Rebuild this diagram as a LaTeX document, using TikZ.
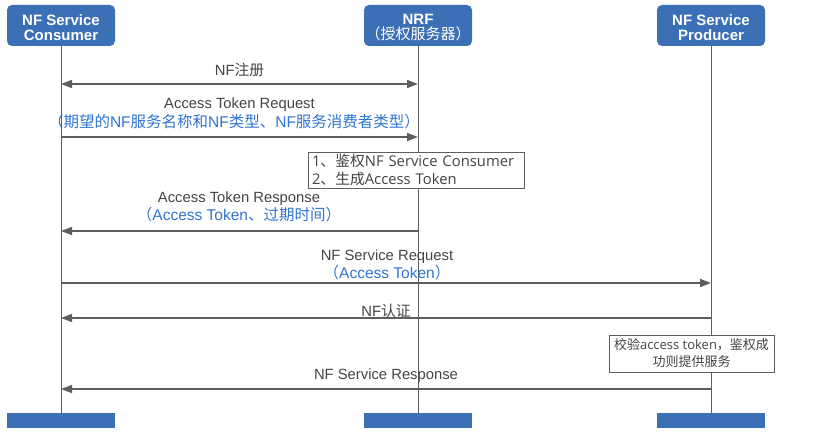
\documentclass[tikz,border=0pt]{standalone}
\usepackage{fontspec}
\setmainfont{Liberation Sans}
\newfontfamily\cjk{Noto Sans CJK SC}
\newfontfamily\boxfont{Open Sans}
\usetikzlibrary{arrows.meta}
\definecolor{hdr}{HTML}{3B6FB6}
\definecolor{ln}{HTML}{5E5E5E}
\definecolor{txt}{HTML}{444444}
\definecolor{btxt}{HTML}{2F74D0}
\begin{document}
\begin{tikzpicture}[x=1pt,y=-1pt,
  hdrbox/.style={fill=hdr, rounded corners=5pt, minimum width=108pt, minimum height=41pt, inner sep=0pt},
  hdrtext/.style={text=white, font=\fontsize{15}{15.5}\selectfont\bfseries, align=center, inner sep=0pt},
  barbox/.style={fill=hdr, minimum width=108pt, minimum height=15pt, inner sep=0pt},
  life/.style={draw=ln, line width=0.8pt},
  msg/.style={draw=ln, line width=1.7pt, -{Triangle[length=11pt,width=8pt]}},
  msgboth/.style={draw=ln, line width=1.7pt, {Triangle[length=11pt,width=8pt]}-{Triangle[length=11pt,width=8pt]}},
  lbl/.style={text=txt, font=\fontsize{14.8}{16.5}\selectfont, inner sep=0pt, align=center},
  blbl/.style={text=btxt, font=\fontsize{15.5}{16.5}\selectfont, inner sep=0pt, align=center},
  notebox/.style={draw=ln, line width=0.8pt, fill=white, text=txt, inner sep=0pt}
]
\useasboundingbox (0,0) rectangle (816,444);

% headers
\node[hdrbox] (cons) at (61,25.5) {};
\node[hdrtext] (const) at ([yshift=-2pt]cons.center) {NF Service\\Consumer};
\node[hdrbox] (nrf) at (418,25.5) {};
\node[hdrtext] (nrft) at ([yshift=-2pt]nrf.center) {NRF\\{\mdseries\cjk （授权服务器）}};
\node[hdrbox] (prod) at (711,25.5) {};
\node[hdrtext] (prodt) at ([yshift=-2pt]prod.center) {NF Service\\Producer};

% bottom bars
\node[barbox] (consb) at (61,420.5) {};
\node[barbox] (nrfb) at (418,420.5) {};
\node[barbox] (prodb) at (711,420.5) {};

% lifelines
\draw[life] (cons.south) -- (consb.north);
\draw[life] (nrf.south) -- (nrfb.north);
\draw[life] (prod.south) -- (prodb.north);

% message anchors
\coordinate (c1) at (61,84);  \coordinate (n1) at (418,84);
\coordinate (c2) at (61,137); \coordinate (n2) at (418,137);
\coordinate (c3) at (61,231); \coordinate (n3) at (418,231);
\coordinate (c4) at (61,283); \coordinate (p4) at (711,283);
\coordinate (c5) at (61,318); \coordinate (p5) at (711,318);
\coordinate (c6) at (61,389); \coordinate (p6) at (711,389);

% messages
\draw[msgboth] (c1) -- (n1);
\node[lbl] (l1) at (239.5,70) {NF{\cjk 注册}};

\draw[msg] (c2) -- (n2);
\node[lbl] (l2a) at (239.5,105) {Access Token Request};
\node[blbl] (l2b) at (234,122) {{\cjk （期望的}NF{\cjk 服务名称和}NF{\cjk 类型、}NF{\cjk 服务消费者类型）}};

\node[notebox, minimum width=216pt, minimum height=36pt, text width=208pt, align=left,
  font=\boxfont\fontsize{14.8}{18}\selectfont] (note1) at (416,170)
  {1{\cjk 、鉴权}NF Service Consumer\\2{\cjk 、生成}Access Token};

\draw[msg] (n3) -- (c3);
\node[lbl] (l3a) at (239,199) {Access Token Response};
\node[blbl] (l3b) at (239,215) {{\cjk （}Access Token{\cjk 、过期时间）}};

\draw[msg] (c4) -- (p4);
\node[lbl] (l4a) at (387,257) {NF Service Request};
\node[blbl] (l4b) at (387,273) {{\cjk （}Access Token{\cjk ）}};

\draw[msg] (p5) -- (c5);
\node[lbl] (l5) at (386,311) {NF{\cjk 认证}};

\node[notebox, minimum width=165pt, minimum height=37pt, align=center,
  font=\boxfont\fontsize{13}{17}\selectfont] (note2) at (691.5,353.5)
  {{\cjk 校验}access token{\cjk ，鉴权成}\\{\cjk 功则提供服务}};

\draw[msg] (p6) -- (c6);
\node[lbl] (l6) at (386,376) {NF Service Response};
\end{tikzpicture}
\end{document}
